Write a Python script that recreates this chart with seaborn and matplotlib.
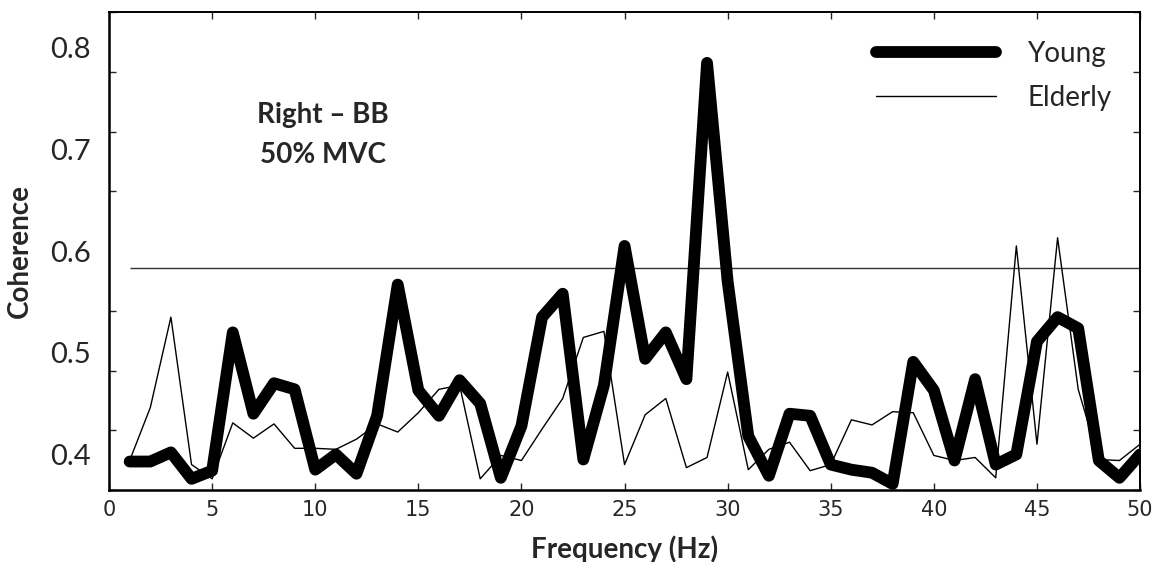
import numpy as np
import pandas as pd
import matplotlib.pyplot as plt
import seaborn as sns

# Coherence spectra
freq = list(range(1, 51))
young = [0.393, 0.393, 0.402, 0.376, 0.384, 0.520, 0.440, 0.470, 0.464, 0.385,
         0.400, 0.381, 0.438, 0.567, 0.463, 0.438, 0.473, 0.450, 0.377, 0.428,
         0.535, 0.558, 0.395, 0.468, 0.605, 0.494, 0.520, 0.474, 0.785, 0.570,
         0.418, 0.379, 0.440, 0.438, 0.390, 0.385, 0.382, 0.371, 0.491, 0.463,
         0.394, 0.474, 0.390, 0.400, 0.511, 0.535, 0.524, 0.394, 0.377, 0.400]
elderly = [0.394, 0.446, 0.535, 0.390, 0.376, 0.431, 0.416, 0.430, 0.406, 0.406,
           0.405, 0.415, 0.430, 0.422, 0.441, 0.464, 0.468, 0.376, 0.399, 0.394,
           0.425, 0.455, 0.515, 0.521, 0.390, 0.439, 0.455, 0.387, 0.397, 0.481,
           0.385, 0.405, 0.412, 0.384, 0.390, 0.434, 0.429, 0.442, 0.441, 0.399,
           0.394, 0.397, 0.377, 0.605, 0.410, 0.613, 0.464, 0.395, 0.394, 0.410]
threshold = 0.583
y_ticks = [0.4, 0.5, 0.6, 0.7, 0.8]
x_ticks = list(range(0, 51, 5))

df = pd.DataFrame({"Frequency": freq, "Young": young, "Elderly": elderly})

sns.set_style("white")
plt.rcParams["font.family"] = ["Lato", "DejaVu Sans"]

fig = plt.figure(figsize=(11.65, 5.62), dpi=100)
ax = fig.add_axes([0.0936, 0.1281, 0.885, 0.8505])

ax.hlines(threshold, 1, 50, color="#333333", linewidth=1)
sns.lineplot(data=df, x="Frequency", y="Young", ax=ax, color="black",
             linewidth=8.5, label="Young", solid_joinstyle="round",
             solid_capstyle="round")
sns.lineplot(data=df, x="Frequency", y="Elderly", ax=ax, color="black",
             linewidth=1, label="Elderly")

ymin, ymax = 0.365, 0.835
ax.set_xlim(0, 50)
ax.set_ylim(ymin, ymax)

ax.set_yticks(y_ticks)
ax.set_yticklabels([f"{v:.1f}" for v in y_ticks], fontsize=21)
ax.set_yticks(np.linspace(ymin, ymax, 9), minor=True)
ax.tick_params(axis="y", which="major", length=0, pad=13)
ax.tick_params(axis="y", which="minor", direction="in", length=5, width=1,
               left=True, right=True)

ax.set_xticks(x_ticks)
ax.set_xticklabels([str(v) for v in x_ticks], fontsize=15,
                   family="DejaVu Sans")
ax.tick_params(axis="x", which="major", direction="in", length=5, width=1,
               bottom=True, top=True, pad=7)

for side in ["left", "bottom"]:
    ax.spines[side].set_linewidth(1.8)
for side in ["top", "right"]:
    ax.spines[side].set_linewidth(1.4)
for sp in ax.spines.values():
    sp.set_color("black")

ax.set_xlabel("Frequency (Hz)", fontsize=20, fontweight="bold")
ax.set_ylabel("Coherence", fontsize=20, fontweight="bold")
ax.xaxis.set_label_coords(0.5, -0.094)
ax.yaxis.set_label_coords(-0.074, 0.5)

ax.text(0.2076, 0.7427, "Right \u2013 BB\n50% MVC", transform=ax.transAxes,
        ha="center", va="center", fontsize=20, fontweight="bold",
        linespacing=1.7)

ax.legend(loc="upper left", bbox_to_anchor=(0.744, 0.94), frameon=False,
          fontsize=20, handlelength=4.3, handletextpad=1.15,
          labelspacing=0.65, borderpad=0, borderaxespad=0)

fig.savefig("out.png", dpi=100)
